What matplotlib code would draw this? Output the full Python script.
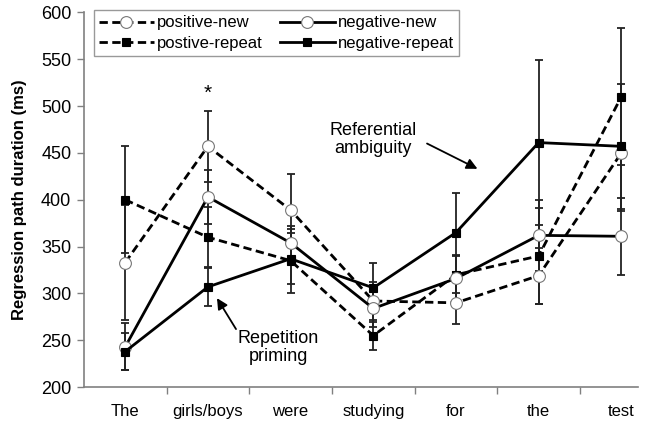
import matplotlib.pyplot as plt
import numpy as np

plt.rcParams['font.family'] = ['Liberation Sans', 'DejaVu Sans']

words = ['The', 'girls/boys', 'were', 'studying', 'for', 'the', 'test']

pos_new = [333, 457, 389, 292, 290, 319, 450]
neg_new = [243, 403, 354, 284, 316, 362, 361]
pos_rep = [400, 360, 335, 255, 320, 340, 510]
neg_rep = [238, 307, 337, 306, 365, 461, 457]

pos_new_err = [61, 38, 38, 20, 23, 30, 62]
neg_new_err = [25, 29, 18, 20, 25, 38, 41]
pos_rep_err = [57, 32, 34, 15, 20, 51, 73]
neg_rep_err = [20, 20, 27, 26, 42, 88, 67]

fig = plt.figure(figsize=(6.45, 4.25), dpi=100)
ax = fig.add_axes([0.130, 0.089, 0.859, 0.882])

x = np.arange(len(words))

series = [
    (pos_new, pos_new_err, '--', 'o', 'white', 'positive-new'),
    (pos_rep, pos_rep_err, '--', 's', 'black', 'postive-repeat'),
    (neg_new, neg_new_err, '-', 'o', 'white', 'negative-new'),
    (neg_rep, neg_rep_err, '-', 's', 'black', 'negative-repeat'),
]
for vals, err, ls, mk, fc, lab in series:
    ax.errorbar(x, vals, yerr=err, fmt='none', ecolor='#222222',
                elinewidth=1.3, capsize=3, capthick=1.3, zorder=2)
for vals, err, ls, mk, fc, lab in series:
    ms = 8.5 if mk == 'o' else 6
    line, = ax.plot(x, vals, linestyle=ls, marker=mk, color='black',
                    markerfacecolor=fc, markeredgecolor='black' if mk == 's' else '#777777',
                    markeredgewidth=0.8, markersize=ms, linewidth=2, label=lab, zorder=3)
    if ls == '--':
        line.set_dashes((3, 1.6))

ax.set_xlim(-0.5, 6.2)
ax.set_ylim(200, 600)
ax.set_yticks(range(200, 601, 50))
ax.set_xticks(x)
ax.set_xticklabels(words)
ax.set_xticks(np.arange(0.5, 6.0, 1.0), minor=True)
ax.tick_params(axis='x', which='major', length=0, pad=12, labelsize=12)
ax.tick_params(axis='x', which='minor', length=5, color='#808080', width=1)
ax.tick_params(axis='y', length=5, color='#808080', width=1, labelsize=13, pad=4)

for s in ['top', 'right']:
    ax.spines[s].set_visible(False)
for s in ['left', 'bottom']:
    ax.spines[s].set_color('#808080')
    ax.spines[s].set_linewidth(1.2)

ax.set_ylabel('Regression path duration (ms)', fontsize=12, fontweight='bold', labelpad=10)

leg = ax.legend(ncol=2, loc='upper left', bbox_to_anchor=(0.018, 1.005), fontsize=12,
                frameon=True, fancybox=False, edgecolor='#808080', handlelength=3.3,
                handletextpad=0.2, columnspacing=1.0, borderpad=0.3, labelspacing=0.35,
                borderaxespad=0)
leg.get_frame().set_linewidth(1.0)

ax.text(1, 514, '*', ha='center', va='center', fontsize=15)

ax.text(3.0, 464, 'Referential\nambiguity', ha='center', va='center', fontsize=13,
        linespacing=1.05)
ax.annotate('', xy=(4.26, 433), xytext=(3.65, 460),
            arrowprops=dict(arrowstyle='-|>', color='black', lw=1.3,
                            mutation_scale=16, shrinkA=0, shrinkB=0))

ax.text(1.85, 242, 'Repetition\npriming', ha='center', va='center', fontsize=13,
        linespacing=1.05)
ax.annotate('', xy=(1.11, 295), xytext=(1.34, 262),
            arrowprops=dict(arrowstyle='-|>', color='black', lw=1.3,
                            mutation_scale=16, shrinkA=0, shrinkB=0))

fig.savefig('out.png', dpi=100)
